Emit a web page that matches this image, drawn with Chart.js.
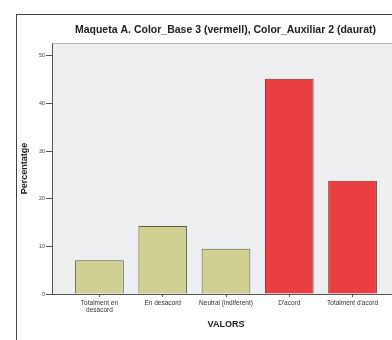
<!DOCTYPE html>
<html>
<head>
<meta charset="utf-8">
<script src="https://cdn.jsdelivr.net/npm/chart.js@4"></script>
<style>
  html, body { margin: 0; padding: 0; background: #fff; }
  #wrap { width: 392px; height: 340px; overflow: hidden; position: relative; }
  #wrap canvas { position: absolute; left: 0; top: 0; }
</style>
</head>
<body>
<div id="wrap"><canvas id="myChart" width="435" height="340"></canvas></div>
<script>
// categories of the answer scale (Catalan, as in the original)
const categories = [
  ['Totalment en', 'desacord'],
  'En desacord',
  'Neutral (indiferent)',
  "D'acord",
  "Totalment d'acord"
];
// percentage of answers per category
const percentages = [7.1, 14.3, 9.5, 45.2, 23.8];
const yTicks = [0, 10, 20, 30, 40, 50];

const gold = '#cfd092', goldEdge = '#5e5c40';
const red = '#ea3f42', redEdge = '#7c2c2c';

// plot background + outer frame, like the SPSS export
const frame = {
  id: 'frame',
  beforeDraw(chart) {
    const {ctx, chartArea} = chart;
    ctx.save();
    ctx.fillStyle = '#eceef0';
    ctx.fillRect(chartArea.left, chartArea.top, chartArea.right - chartArea.left, chartArea.bottom - chartArea.top);
    ctx.strokeStyle = '#b9b9bc';
    ctx.lineWidth = 1;
    ctx.beginPath();
    ctx.moveTo(chartArea.left, chartArea.top + 0.5);
    ctx.lineTo(chartArea.right, chartArea.top + 0.5);
    ctx.stroke();
    ctx.strokeStyle = '#444';
    ctx.strokeRect(16.5, 14.5, 1000, 1000);
    ctx.restore();
  }
};

new Chart(document.getElementById('myChart').getContext('2d'), {
  type: 'bar',
  data: {
    datasets: [{
      label: 'Percentatge',
      data: percentages.map((v, i) => ({x: i, y: v})),
      backgroundColor: c => c.dataIndex < 3 ? gold : red,
      borderColor: c => c.dataIndex < 3 ? goldEdge : redEdge,
      borderWidth: 1,
      borderSkipped: 'bottom',
      categoryPercentage: 1,
      barPercentage: 0.77
    }]
  },
  options: {
    responsive: false,
    animation: false,
    layout: {padding: {left: 16, top: 20, right: 0, bottom: 7.6}},
    plugins: {
      legend: {display: false},
      tooltip: {enabled: false},
      title: {
        display: true,
        text: 'Maqueta A. Color_Base 3 (vermell), Color_Auxiliar 2 (daurat)',
        color: '#222',
        font: {family: 'Liberation Sans', size: 10.5, weight: 'bold'},
        padding: {top: 3.7, bottom: 6.7}
      }
    },
    scales: {
      x: {
        type: 'linear',
        min: -0.75,
        max: 4.75,
        offset: false,
        grid: {offset: false, drawOnChartArea: false, drawTicks: true, tickLength: 3, color: '#555'},
        border: {display: true, color: '#555', width: 1},
        afterBuildTicks: s => { s.ticks = categories.map((_, i) => ({value: i})); },
        ticks: {
          autoSkip: false,
          maxRotation: 0,
          padding: 2,
          color: '#333',
          font: {family: 'Liberation Sans', size: 6.5},
          callback: v => categories[v]
        },
        title: {
          display: true,
          text: 'VALORS',
          color: '#222',
          font: {family: 'Liberation Sans', size: 9, weight: 'bold'},
          padding: {top: 3, bottom: 2}
        }
      },
      y: {
        min: 0,
        max: 52.7,
        afterFit: s => { s.width = 36; },
        afterBuildTicks: s => { s.ticks = yTicks.map(v => ({value: v})); },
        grid: {drawOnChartArea: false, drawTicks: true, tickLength: 6, color: '#555'},
        border: {display: true, color: '#555', width: 1},
        ticks: {
          padding: 1,
          color: '#444',
          font: {family: 'Liberation Sans', size: 5.5}
        },
        title: {
          display: true,
          text: 'Percentatge',
          color: '#222',
          font: {family: 'Liberation Sans', size: 9, weight: 'bold'},
          padding: {top: 3, bottom: 0}
        }
      },
      yR: {
        position: 'right',
        display: true,
        afterFit: s => { s.width = 35; },
        grid: {display: false},
        border: {display: false},
        ticks: {display: false}
      }
    }
  },
  plugins: [frame]
});
</script>
</body>
</html>
